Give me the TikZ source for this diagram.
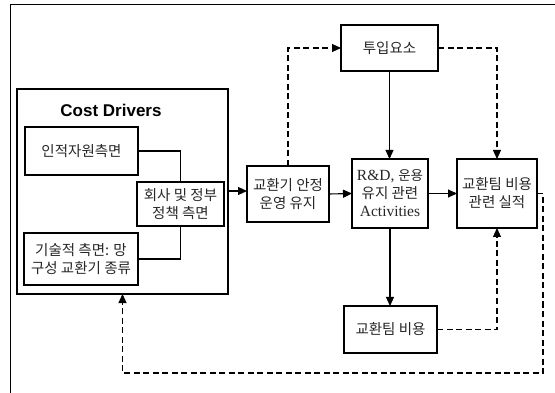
\documentclass[tikz,border=0pt]{standalone}
\usepackage{fontspec}
\setmainfont{Liberation Serif}
\newfontfamily\kr{Noto Sans CJK KR}[Scale=1.0]
\newfontfamily\titlefont{Liberation Sans}
\usetikzlibrary{arrows.meta}
\begin{document}
\begin{tikzpicture}[x=1pt,y=-1pt,
  every node/.style={inner sep=0pt, outer sep=0pt},
  box/.style={draw, line width=1.4pt, align=center, text=black!85,
    font=\fontsize{14.5}{18}\selectfont\kr},
  link/.style={line width=1.1pt},
  arr/.style={link, -{Triangle[length=9pt,width=8pt]}},
  darr/.style={arr, dash pattern=on 6pt off 3.5pt},
  dlink/.style={link, dash pattern=on 6pt off 3.5pt}
]
\useasboundingbox (0,0) rectangle (555,393);

% page frame (open towards the right and bottom)
\draw[line width=0.9pt] (555,4) -| (10,393);

% Cost Drivers group
\node[draw, line width=1.4pt, minimum width=211pt, minimum height=205pt] (cd) at (122.5,191.5) {};
\node[font=\fontsize{17}{20}\selectfont\titlefont\bfseries] (cdt) at (111,110) {Cost Drivers};
\node[box, minimum width=113pt, minimum height=48pt] (hr) at (81.5,151) {인적자원측면};
\node[box, minimum width=87pt, minimum height=44pt] (gov) at (180.5,204) {회사 및 정부\\정책 측면};
\node[box, minimum width=114pt, minimum height=52pt] (tech) at (81,259) {기술적 측면: 망\\구성 교환기 종류};

% main chain
\node[box, minimum width=82pt, minimum height=56pt] (stab) at (288,194) {교환기 안정\\운영 유지};
\node[box, minimum width=76pt, minimum height=69pt, font=\fontsize{15.5}{18}\selectfont] (rd) at (390,193.5)
  {R\&D, {\kr\fontsize{13.5}{18}\selectfont 운용}\\{\kr\fontsize{14.5}{18}\selectfont 유지 관련}\\Activities};
\node[box, minimum width=80pt, minimum height=69pt] (perf) at (497,193.5) {교환팀 비용\\관련 실적};
\node[box, minimum width=97pt, minimum height=46pt] (input) at (389.5,48) {투입요소};
\node[box, minimum width=93pt, minimum height=47pt] (cost) at (390.5,329.5) {교환팀 비용};

\coordinate (loop) at (543,373);

% connectors inside the group
\draw[link] (hr.east) -| (gov.north);
\draw[link] (tech.east) -| (gov.south);

% solid flow
\draw[arr] (cd.east |- 0,191) -- (stab.west |- 0,191);
\draw[arr] (stab.east) -- (rd.west);
\draw[arr] (rd.east) -- (perf.west);
\draw[arr] (input.south) -- (input.south |- rd.north);
\draw[arr] (rd.south) -- (rd.south |- cost.north);

% dashed feedback
\draw[darr] (stab.north) |- (input.west);
\draw[darr] (input.east) -| (perf.north);
\draw[darr] (cost.east) -| (perf.south);
\draw[darr] (perf.east) -| (loop) -| (cd.south);
\end{tikzpicture}
\end{document}
